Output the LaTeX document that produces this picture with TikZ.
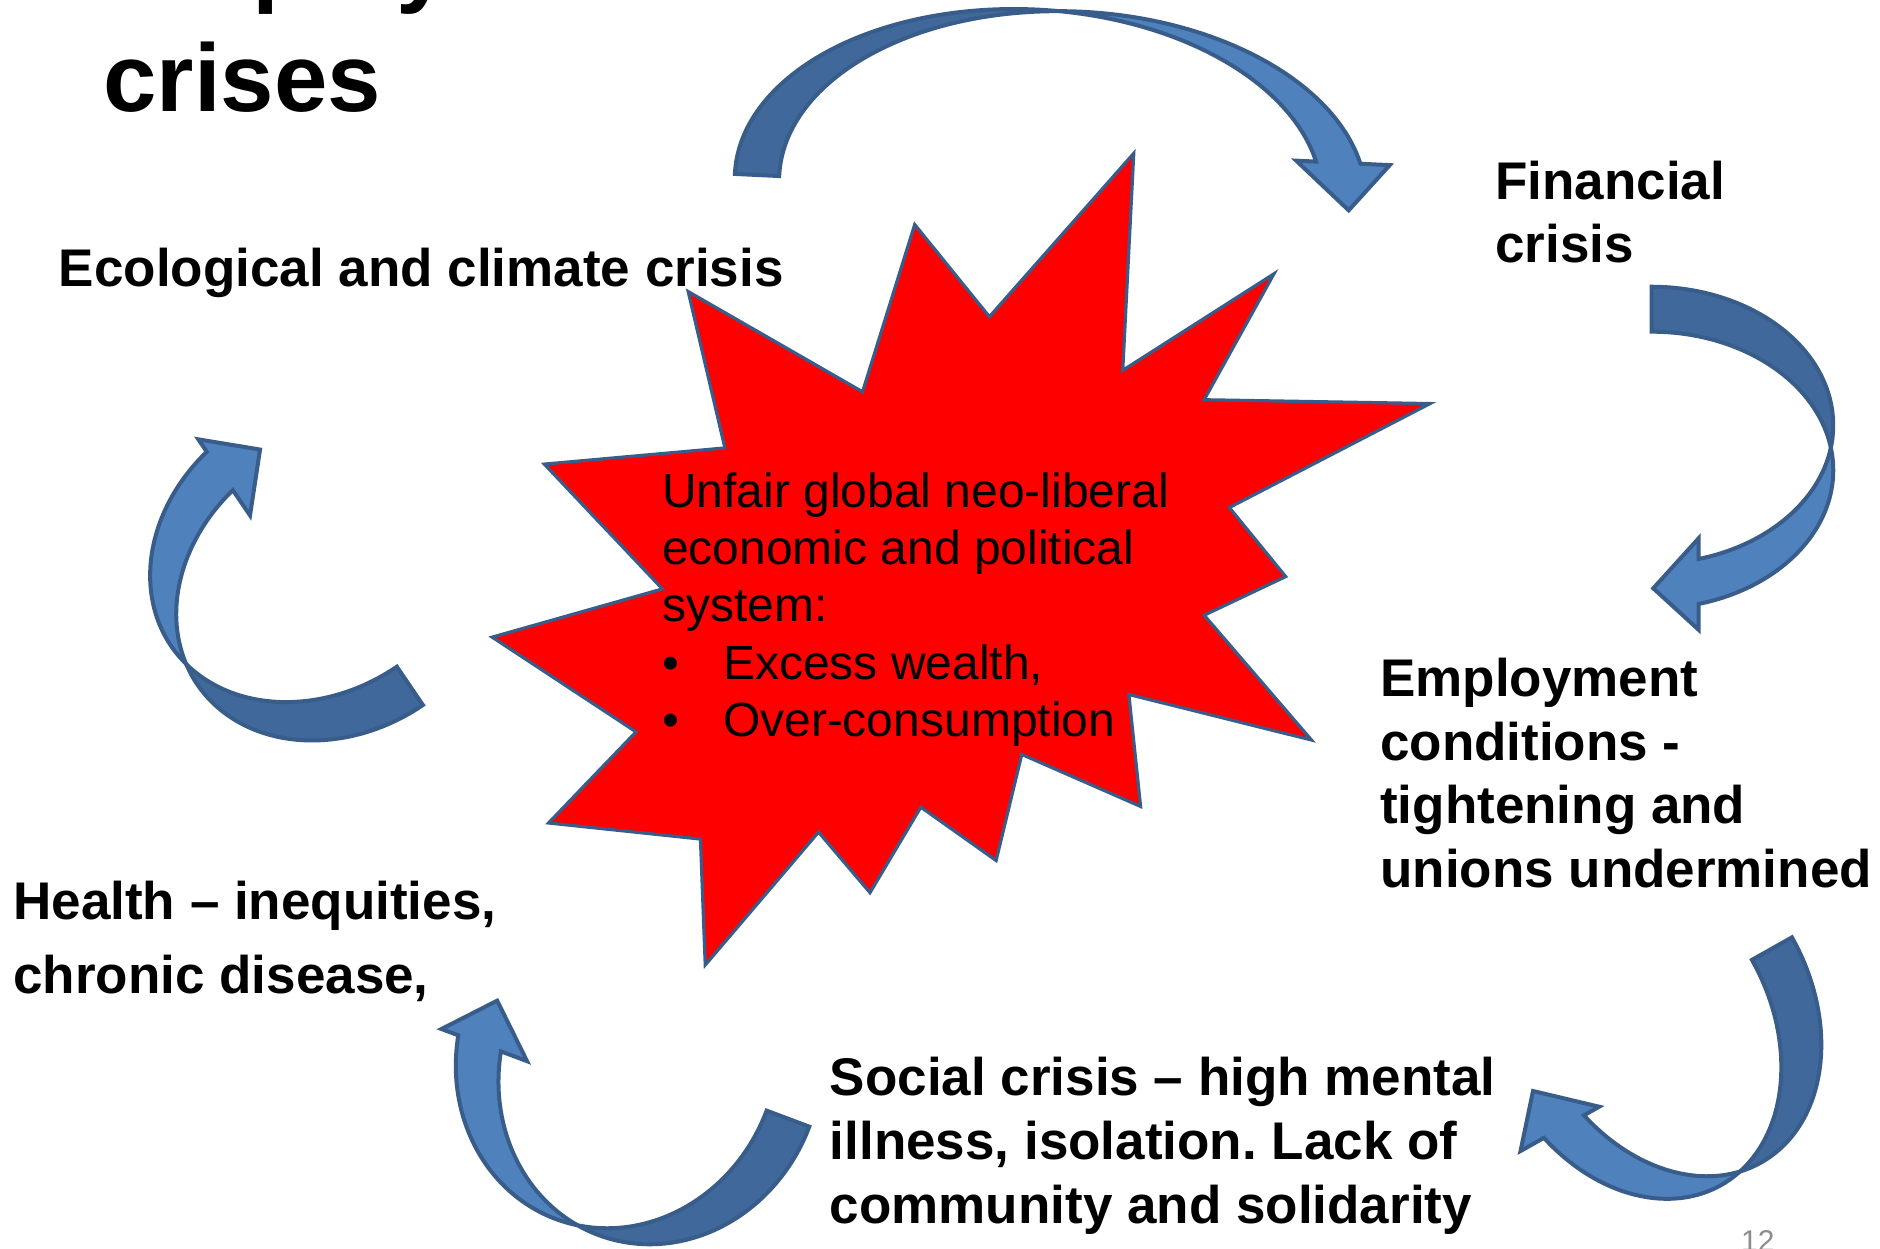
\documentclass[tikz,border=0pt]{standalone}
\usepackage{fontspec}
\setmainfont{Liberation Sans}
\frenchspacing

\definecolor{ribline}{HTML}{385D8A}
\definecolor{ribdark}{HTML}{40689A}
\definecolor{ribblue}{HTML}{4F81BD}
\definecolor{pagegrey}{HTML}{8C8C8C}

% Twisted ribbon arrow built from two equal ellipses offset by the band width.
% #1 x radius, #2 y radius, #3 band width, #4 end angle of the band,
% #5 inner barb, #6 outer barb, #7 tip shift, #8 head length
\newcommand\twistarrow[8]{%
  \pgfmathsetmacro\rbh{#3/2}%
  \pgfmathsetmacro\rbcr{acos(#3/(2*#1))}%
  \pgfmathsetmacro\rbone{360-\rbcr}%
  \pgfmathsetmacro\rbtwo{180+\rbcr}%
  \pgfmathsetmacro\rbbx{#1*cos(#4)}%
  \pgfmathsetmacro\rbby{#2*sin(#4)}%
  \pgfmathsetmacro\rbinx{\rbbx-\rbh-(#5)}%
  \pgfmathsetmacro\rboe{\rbbx+\rbh}%
  \pgfmathsetmacro\rboutx{\rbbx+\rbh+(#6)}%
  \pgfmathsetmacro\rbtx{\rbbx+(#7)}%
  \pgfmathsetmacro\rbty{\rbby+(#8)}%
  \pgfmathsetmacro\rbsx{-\rbh-(#1)}%
  \pgfmathsetmacro\rbcx{-\rbh+(#1)*cos(\rbone)}%
  \pgfmathsetmacro\rbcy{(#2)*sin(\rbone)}%
  \draw[ribbonback] (\rbsx,0)
     arc[start angle=180,end angle=\rbone,x radius=#1,y radius=#2]
     arc[start angle=\rbtwo,end angle=180,x radius=#1,y radius=#2] -- cycle;
  \draw[ribbonfront] (\rbcx,\rbcy)
     arc[start angle=\rbone,end angle=#4,x radius=#1,y radius=#2]
     -- (\rbinx,\rbby) -- (\rbtx,\rbty) -- (\rboutx,\rbby) -- (\rboe,\rbby)
     arc[start angle=#4,end angle=\rbtwo,x radius=#1,y radius=#2] -- cycle;
}

\begin{document}
\begin{tikzpicture}[x=1.199pt,y=-1.199pt,
  ribbonback/.style={fill=ribdark,draw=ribline,line width=4pt,line join=miter},
  ribbonfront/.style={fill=ribblue,draw=ribline,line width=4pt,line join=miter},
  starburst/.style={fill=red,draw=ribline,line width=3.2pt,line join=miter},
  lbl/.style={inner sep=0pt,anchor=base west,font=\fontsize{53}{63.6}\selectfont\bfseries},
  core/.style={inner sep=0pt,anchor=base west,font=\fontsize{48}{57.3}\selectfont},
  headline/.style={inner sep=0pt,anchor=base west,font=\fontsize{96}{110}\selectfont\bfseries}]
\useasboundingbox (0,0) rectangle (1568,1041);
\clip (0,0) rectangle (1568,1041);
\fill[white] (0,0) rectangle (1568,1041);

% title
\node[headline] (ttlA) at (68,-4.2) {Inequity};
\node[headline] (ttlB) at (86,93) {crises};

% central explosion
\draw[starburst] (945.6,127.9) -- (936.4,308.9) -- (1062.5,228.4) -- (1004.3,333.4)
  -- (1192.7,336.6) -- (1025.3,423.3) -- (1072.3,480.9) -- (1004.3,513.1)
  -- (1093.8,617.2) -- (941.5,579.2) -- (951.3,672.6) -- (852.2,629.2)
  -- (830.8,717.7) -- (768.0,673.2) -- (725.6,744.5) -- (682.7,694.0)
  -- (588.2,804.8) -- (584.2,699.8) -- (457.5,686.4) -- (530.5,610.4)
  -- (410.5,531.4) -- (552.5,491.2) -- (454.0,387.1) -- (604.6,373.6)
  -- (574.0,243.2) -- (719.4,326.8) -- (762.9,187.3) -- (825.2,264.2) -- cycle;

\node[core] (cause) at (552,423) {\begin{tabular}[t]{@{}l@{}}
  Unfair global neo-liberal\\
  economic and political\\
  system:\\
  \makebox[61pt][l]{•}Excess wealth,\\
  \makebox[61pt][l]{•}Over-consumption
  \end{tabular}};

% cycle of curved arrows
\begin{scope}[shift={(876.1,157.7)},rotate=-2.75]
  \twistarrow{245}{149}{37}{347}{16.6}{24.5}{10.6}{39.3}
\end{scope}
\begin{scope}[shift={(1377.6,373.4)},rotate=-90]
  \twistarrow{115.5}{151.4}{37.5}{345}{17.3}{21.6}{5.7}{37.9}
\end{scope}
\begin{scope}[shift={(1378.1,847.4)},rotate=209.4]
  \twistarrow{114.5}{151}{38.3}{343}{14.6}{22.4}{7.9}{38.5}
\end{scope}
\begin{scope}[shift={(532.7,886.2)},rotate=159.4]
  \twistarrow{133}{146.5}{38}{347.5}{23.3}{15}{-1.2}{38.5}
\end{scope}
\begin{scope}[shift={(274.4,472.8)},rotate=124.2]
  \twistarrow{120}{146}{38.7}{348}{25.5}{12.5}{-4.1}{37.8}
\end{scope}

% crisis labels
\node[lbl] (eco) at (49,239) {Ecological and climate crisis};
\node[lbl] (fin) at (1247,166) {\begin{tabular}[t]{@{}l@{}}Financial\\crisis\end{tabular}};
\node[lbl] (emp) at (1151,581) {\begin{tabular}[t]{@{}l@{}}Employment\\conditions -\\tightening and\\unions undermined\end{tabular}};
\node[lbl] (soc) at (692,914) {\begin{tabular}[t]{@{}l@{}}Social crisis – high mental\\illness, isolation. Lack of\\community and solidarity\end{tabular}};
\node[lbl,font=\fontsize{53}{73.5}\selectfont\bfseries] (hlth) at (11,767) {\begin{tabular}[t]{@{}l@{}}Health – inequities,\\chronic disease,\end{tabular}};

% slide number
\node[inner sep=0pt,anchor=base west,text=pagegrey,font=\fontsize{30}{36}\selectfont] (pg) at (1452,1044) {12};
\end{tikzpicture}
\end{document}
